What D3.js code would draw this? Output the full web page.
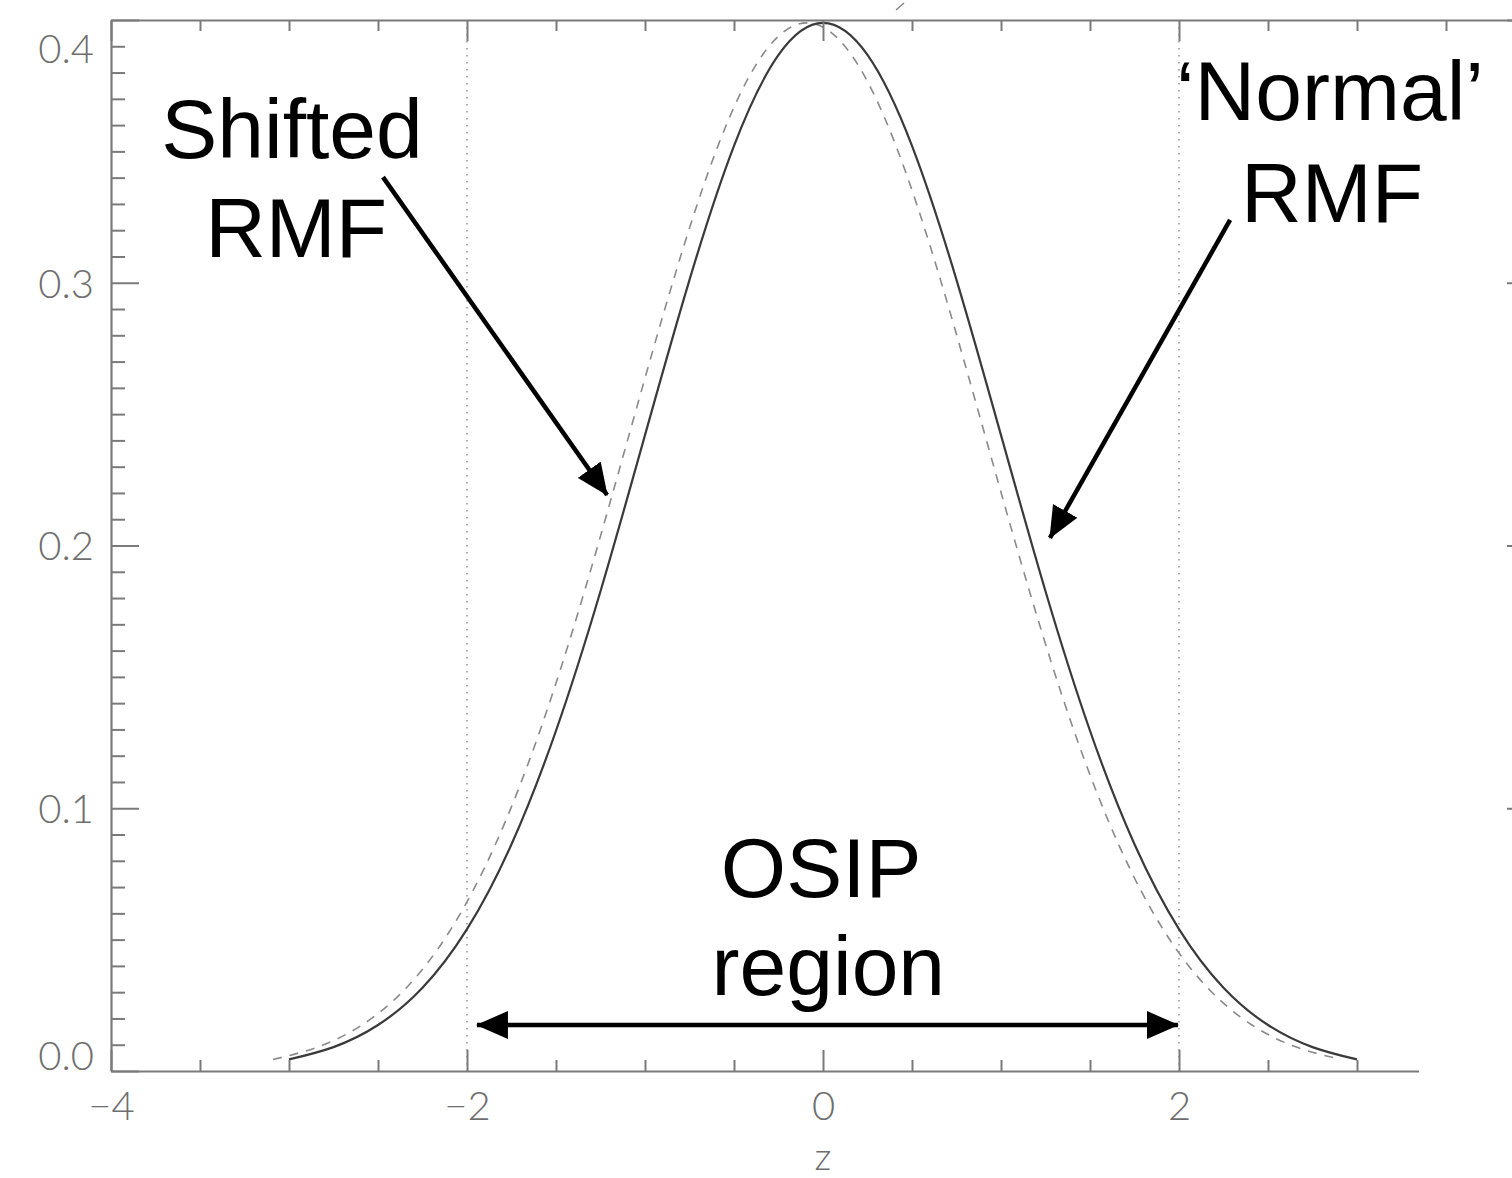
<!DOCTYPE html>
<html>
<head>
<meta charset="utf-8">
<script src="https://cdn.jsdelivr.net/npm/d3@7"></script>
<style>
  body { margin: 0; background: #fff; }
  svg { display: block; }
  .tick-lbl { font-family: Lato, "DejaVu Sans", sans-serif; font-weight: 300; fill: #6e6e6e; }
  .note { font-family: "Liberation Sans", Arial, sans-serif; fill: #000; }
</style>
</head>
<body>
<div id="grafico"></div>
<script>
// curva normal (RMF 'normal')
const zNormal = [-3, -2.75, -2.5, -2.25, -2, -1.75, -1.5, -1.25, -1, -0.75, -0.5, -0.25, 0,
                 0.25, 0.5, 0.75, 1, 1.25, 1.5, 1.75, 2, 2.25, 2.5, 2.75, 3];
const yNormal = [0.0044, 0.0091, 0.0175, 0.0317, 0.0540, 0.0863, 0.1295, 0.1826, 0.2420, 0.3011, 0.3521, 0.3867, 0.3989,
                 0.3867, 0.3521, 0.3011, 0.2420, 0.1826, 0.1295, 0.0863, 0.0540, 0.0317, 0.0175, 0.0091, 0.0044];

// curva desplazada (RMF 'shifted'), un poco a la izquierda
const zShifted = [-3.09, -2.84, -2.59, -2.34, -2.09, -1.84, -1.59, -1.34, -1.09, -0.84, -0.59, -0.34, -0.09,
                  0.16, 0.41, 0.66, 0.91, 1.16, 1.41, 1.66, 1.91, 2.16, 2.41, 2.66, 2.91];
const yShifted = [0.0044, 0.0091, 0.0175, 0.0317, 0.0540, 0.0863, 0.1295, 0.1826, 0.2420, 0.3011, 0.3521, 0.3867, 0.3989,
                  0.3867, 0.3521, 0.3011, 0.2420, 0.1826, 0.1295, 0.0863, 0.0540, 0.0317, 0.0175, 0.0091, 0.0044];

// region OSIP
const osipLimits = [-2, 2];

// ticks
const xMajor = [-4, -2, 0, 2, 4];
const xLabels = [-4, -2, 0, 2];
const xMinor = [-3.5, -3, -2.5, -1.5, -1, -0.5, 0.5, 1, 1.5, 2.5, 3, 3.5];
const yMajor = [0, 0.1, 0.2, 0.3, 0.4];
const yMinor = d3.range(1, 40).filter(i => i % 10 !== 0).map(i => i / 100);

const WIDTH = 1512;
const HEIGHT = 1178;
const LEFT = 111, RIGHT = 1535, TOP = 20, BOTTOM = 1071;
const AXIS_COLOR = "#7a7a7a";

const SVG = d3.select("#grafico").append("svg").attr("width", WIDTH).attr("height", HEIGHT);

const escalaX = d3.scaleLinear().domain([-4, 4]).range([LEFT, RIGHT]);
const escalaY = d3.scaleLinear().domain([0, 0.4]).range([BOTTOM, TOP]);

// lineas punteadas verticales
SVG.selectAll(".osip")
    .data(osipLimits)
    .enter().append("line")
    .attr("x1", d => escalaX(d)).attr("x2", d => escalaX(d))
    .attr("y1", TOP).attr("y2", BOTTOM)
    .attr("stroke", "#999").attr("stroke-width", 1.6)
    .attr("stroke-dasharray", "1.6,5.4");

// curvas
const linea = d3.line()
    .x(d => escalaX(d[0]))
    .y(d => escalaY(d[1]))
    .curve(d3.curveNatural);

SVG.append("path")
    .attr("d", linea(d3.zip(zShifted, yShifted)))
    .attr("fill", "none")
    .attr("stroke", "#8a8a8a")
    .attr("stroke-width", 1.6)
    .attr("stroke-dasharray", "9,8");

SVG.append("path")
    .attr("d", linea(d3.zip(zNormal, yNormal)))
    .attr("fill", "none")
    .attr("stroke", "#3a3a3a")
    .attr("stroke-width", 2.2);

// ejes
function estiloEje(g) {
    g.select(".domain").attr("stroke", AXIS_COLOR).attr("stroke-width", 2.2);
    g.selectAll(".tick line").attr("stroke", AXIS_COLOR).attr("stroke-width", 2);
}

const ejeAbajo = SVG.append("g").attr("transform", "translate(0," + BOTTOM + ")");
ejeAbajo.call(d3.axisTop(escalaX).tickValues(xMajor).tickSize(21).tickSizeOuter(0).tickFormat(""));
ejeAbajo.append("g").call(d3.axisTop(escalaX).tickValues(xMinor).tickSize(11).tickFormat("")).call(g => g.select(".domain").remove());
ejeAbajo.call(estiloEje);
ejeAbajo.selectAll(".tick line").attr("stroke", AXIS_COLOR).attr("stroke-width", 2);

// etiquetas eje x (el 4 queda fuera de la imagen)
SVG.append("g")
    .attr("transform", "translate(0," + (BOTTOM + 18) + ")")
    .call(d3.axisBottom(escalaX).tickValues(xLabels).tickSize(0).tickFormat(d3.format("d")))
    .call(g => g.select(".domain").remove())
    .selectAll("text")
    .attr("class", "tick-lbl")
    .style("font-size", "40px")
    .attr("dy", "0.71em");

const ejeArriba = SVG.append("g").attr("transform", "translate(0," + TOP + ")");
ejeArriba.call(d3.axisBottom(escalaX).tickValues(xMajor).tickSize(21).tickSizeOuter(0).tickFormat(""));
ejeArriba.append("g").call(d3.axisBottom(escalaX).tickValues(xMinor).tickSize(11).tickFormat("")).call(g => g.select(".domain").remove());
ejeArriba.call(estiloEje);
ejeArriba.selectAll(".tick line").attr("stroke", AXIS_COLOR).attr("stroke-width", 2);

const ejeIzq = SVG.append("g").attr("transform", "translate(" + LEFT + ",0)");
ejeIzq.call(d3.axisRight(escalaY).tickValues(yMajor).tickSize(28).tickSizeOuter(0).tickFormat(""));
ejeIzq.append("g").call(d3.axisRight(escalaY).tickValues(yMinor).tickSize(14).tickFormat("")).call(g => g.select(".domain").remove());
ejeIzq.call(estiloEje);
ejeIzq.selectAll(".tick line").attr("stroke", AXIS_COLOR).attr("stroke-width", 2);

// etiquetas eje y
SVG.append("g")
    .attr("transform", "translate(" + (LEFT - 17) + ",0)")
    .call(d3.axisLeft(escalaY).tickValues(yMajor).tickSize(0).tickFormat(d3.format(".1f")))
    .call(g => g.select(".domain").remove())
    .selectAll("text")
    .attr("class", "tick-lbl")
    .style("font-size", "40px")
    .attr("x", 0)
    .attr("dy", d => d === 0.4 ? "1.05em" : (d === 0 ? "-0.05em" : "0.36em"));

const ejeDer = SVG.append("g").attr("transform", "translate(" + RIGHT + ",0)");
ejeDer.call(d3.axisLeft(escalaY).tickValues(yMajor).tickSize(28).tickSizeOuter(0).tickFormat(""));
ejeDer.call(estiloEje);

// titulo eje x
SVG.append("text")
    .attr("class", "tick-lbl")
    .attr("x", escalaX(0))
    .attr("y", 1170)
    .attr("text-anchor", "middle")
    .style("font-size", "38px")
    .text("z");

// la esquina inferior derecha esta tapada en el original
SVG.append("rect")
    .attr("x", 1419).attr("y", 1040)
    .attr("width", 100).attr("height", 140)
    .attr("fill", "#fff");

// pequena marca arriba
SVG.append("line")
    .attr("x1", 896).attr("y1", 10).attr("x2", 904).attr("y2", 3)
    .attr("stroke", "#888").attr("stroke-width", 1.6);

// flechas
const defs = SVG.append("defs");
defs.append("marker")
    .attr("id", "punta")
    .attr("viewBox", "0 0 32 28")
    .attr("refX", 31).attr("refY", 14)
    .attr("markerWidth", 32).attr("markerHeight", 28)
    .attr("markerUnits", "userSpaceOnUse")
    .attr("orient", "auto-start-reverse")
    .append("path")
    .attr("d", "M0,0 L32,14 L0,28 Z")
    .attr("fill", "#000");

const flechas = [
    { z1: -2.472, v1: 0.3402, z2: -1.213, v2: 0.2192, doble: false },
    { z1: 2.287, v1: 0.3239, z2: 1.275, v2: 0.2029, doble: false },
    { z1: -1.944, v1: 0.0175, z2: 1.994, v2: 0.0175, doble: true }
];

SVG.selectAll(".flecha")
    .data(flechas)
    .enter().append("line")
    .attr("x1", d => escalaX(d.z1)).attr("y1", d => escalaY(d.v1))
    .attr("x2", d => escalaX(d.z2)).attr("y2", d => escalaY(d.v2))
    .attr("stroke", "#000").attr("stroke-width", 4.5)
    .attr("marker-end", "url(#punta)")
    .attr("marker-start", d => d.doble ? "url(#punta)" : null);

// textos
const notas = [
    { t: "Shifted", z: -2.983, v: 0.3475 },
    { t: "RMF", z: -2.96, v: 0.3098 },
    { t: "\u2018Normal\u2019", z: 2.848, v: 0.3619 },
    { t: "RMF", z: 2.86, v: 0.3231 },
    { t: "OSIP", z: -0.01, v: 0.0662 },
    { t: "region", z: 0.03, v: 0.0289 }
];

SVG.selectAll(".note")
    .data(notas)
    .enter().append("text")
    .attr("class", "note")
    .attr("x", d => escalaX(d.z))
    .attr("y", d => escalaY(d.v))
    .attr("text-anchor", "middle")
    .style("font-size", "84px")
    .text(d => d.t);
</script>
</body>
</html>
